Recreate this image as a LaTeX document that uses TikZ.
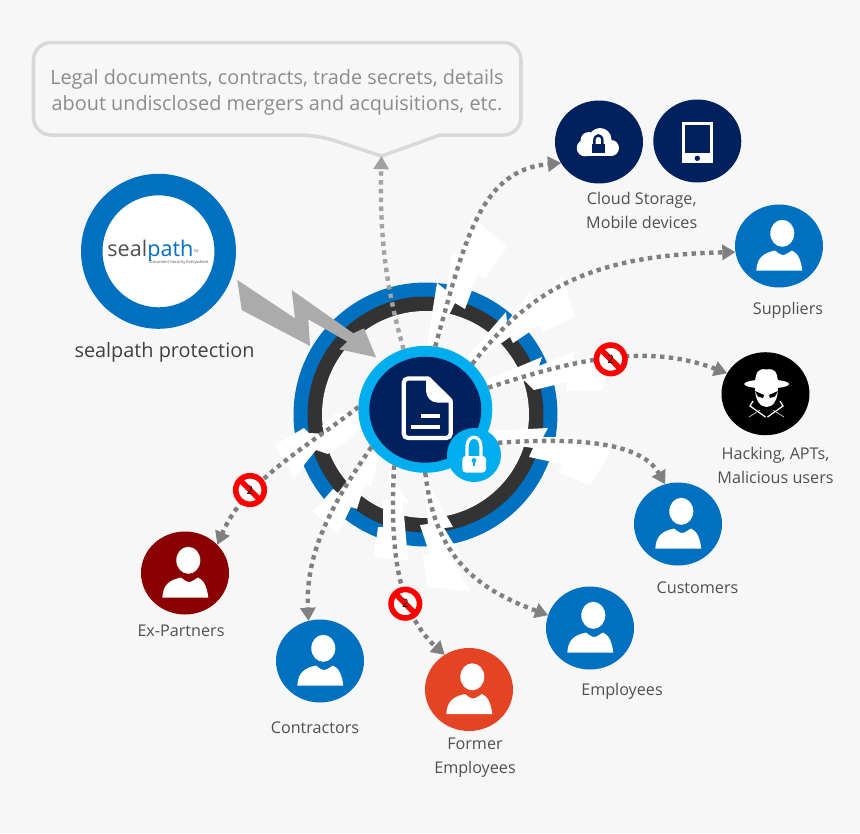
\documentclass[tikz,border=0pt]{standalone}
\usepackage{fontspec}
\setmainfont{Open Sans}
\usepackage{xcolor}
\usetikzlibrary{arrows.meta,shapes.geometric}
\definecolor{Paper}{HTML}{F7F7F7}
\definecolor{Navy}{HTML}{00205E}
\definecolor{Sky}{HTML}{00AEEF}
\definecolor{Royal}{HTML}{0070C0}
\definecolor{Coal}{HTML}{333333}
\definecolor{Bolt}{HTML}{ABABAB}
\definecolor{Ink}{HTML}{505050}
\tikzstyle{disc}=[ellipse,inner sep=0pt,outer sep=0pt,minimum width=1.76cm,minimum height=1.66cm]
\tikzstyle{person}=[disc,fill=Royal]
\tikzstyle{label}=[inner sep=0pt,align=center,text=Ink,font=\fontsize{9.2}{13.6}\selectfont]
\tikzstyle{spike}=[fill=white,draw=none]
\tikzstyle{flow}=[-{Triangle[width=8.5pt,length=7.5pt]},draw=gray,line width=2.5pt,dash pattern=on 2.5pt off 2.5pt]
\tikzstyle{flowpale}=[flow,draw=Bolt!95!black]
\tikzstyle{nosign}=[circle,draw=red,fill=white,line width=3.2pt,inner sep=0pt,outer sep=0pt,minimum size=0.57cm,font=\fontsize{6.5}{7}\selectfont,path picture={\draw [red,line width=3.2pt] (path picture bounding box.north west) to (path picture bounding box.south east);}]
\tikzset{pics/personicon/.style={code={
 \fill [white] (3.3,-12.7) ellipse [x radius=12, y radius=13.5];
 \fill [white] (-22.7,24.7) .. controls (-22,12) and (-16,7) .. (-4,4.5) .. controls (-1,7) and (2,9) .. (4,9) .. controls (7,9) and (10,6) .. (13,4.5) .. controls (19,7) and (22,14) .. (23.3,24.7) -- cycle;
}}}

\begin{document}
\begin{tikzpicture}[x=0.02cm,y=-0.02cm]
 \fill [Paper] (0,0) rectangle (860,833);
 \useasboundingbox (0,0) rectangle (860,833);

 \draw [draw=black!15,line width=2pt,fill=Paper] (440,135) [rounded corners=10pt] -- (521,135) -- (521,42.5) -- (33.5,42.5) -- (33.5,135) -- (317.5,135) [sharp corners] -- (381.5,156) -- cycle;
 \coordinate (bubbletip) at (381.5,156);
 \node [style=label,text=black!45,font=\fontsize{11.3}{15}\selectfont] (bubbletext) at (277,92.5) {Legal documents, contracts, trade secrets, details\\about undisclosed mergers and acquisitions, etc.};

 \node [circle,fill=Royal,minimum size=5.28cm,inner sep=0pt] (ringblue) at (425.5,414.5) {};
 \node [circle,fill=Coal,minimum size=4.72cm,inner sep=0pt] (ringdark) at (425.5,414.5) {};
 \node [circle,fill=Paper,minimum size=4.14cm,inner sep=0pt] (ringhole) at (425.5,414.5) {};

 \fill [style=spike] (427,345) -- (437,283) -- (446,290) -- (453,251) -- (461,257) -- (472,216) -- (507,247) -- (485,279) -- (478,274) -- (465,309) -- (455,303) -- (450,313) -- (437,347) -- cycle;
 \fill [style=spike] (467,357) -- (506,312) -- (507,322) -- (530,293) -- (535,302) -- (563,275) -- (575,317) -- (542,332) -- (540,325) -- (513,343) -- (510,337) -- (475,362) -- cycle;
 \fill [style=spike] (487,380) -- (542,357) -- (539,366) -- (573,352) -- (574,362) -- (608,352) -- (603,390) -- (567,391) -- (567,382) -- (534,390) -- (525,381) -- (488,390) -- cycle;
 \fill [style=spike] (489,431) -- (548,428) -- (543,437) -- (580,437) -- (575,447) -- (613,448) -- (590,485) -- (558,472) -- (562,464) -- (529,457) -- (533,448) -- (500,443) -- cycle;
 \fill [style=spike] (423,475) -- (453,527) -- (444,528) -- (462,558) -- (450,555) -- (470,591) -- (427,587) -- (423,554) -- (430,555) -- (420,525) -- (428,524) -- cycle;
 \fill [style=spike] (388,470) -- (409,503) -- (403,503) -- (408,560) -- (374,557) -- (378,527) -- (383,527) -- (383,500) -- (391,500) -- cycle;
 \fill [style=spike] (379,457) -- (371,487) -- (365,483) -- (357,509) -- (351,507) -- (338,534) -- (313,512) -- (333,489) -- (338,493) -- (355,470) -- (358,473) -- (372,453) -- cycle;
 \fill [style=spike] (358,411) -- (335,414) -- (322,426) -- (328,434) -- (309,433) -- (304,428) -- (275,445) -- (294,478) -- (304,465) -- (316,450) -- (328,454) -- (350,439) -- (360,427) -- cycle;

 \fill [Bolt] (237.3,280) -- (295,318.3) -- (291.7,290) -- (353.3,333.3) -- (364,328.3) -- (376,357.3) -- (339.3,349.3) -- (347.3,341.7) -- (308.3,319.3) -- (310,346) -- (241.7,310) -- cycle;

 \node [disc,fill=Sky,minimum width=2.68cm,minimum height=2.54cm] (core) at (425.3,409.3) {};
 \node [disc,fill=Navy,minimum width=2.24cm,minimum height=2.12cm] (coreinner) at (425.3,409.7) {};
 \draw [white,line width=2.4pt,rounded corners=2.5pt] (428.3,378.5) -- (403.7,378.5) -- (403.7,438) -- (450.7,438) -- (450.7,400.5);
 \fill [white,draw=white,line width=2.4pt,line join=round] (428.3,378.5) -- (450.7,400.5) -- (438,400.5) .. controls (432,400.5) and (428.3,396) .. (428.3,391) -- cycle;
 \draw [white,line width=2.4pt] (420.7,416) to (440,416);
 \draw [white,line width=2.4pt] (411,426.7) to (440,426.7);
 \node [circle,fill=Sky,minimum size=1.08cm,inner sep=0pt,outer sep=0pt] (lock) at (474,455) {};
 \fill [white,rounded corners=2pt] (462.3,456) rectangle (486,472.5);
 \draw [white,line width=1.8pt] (467,457) -- (467,447) .. controls (467,434) and (481,434) .. (481,447) -- (481,457);
 \fill [Sky] (474,460.5) circle [radius=2.4];
 \fill [Sky] (473.2,461) rectangle (474.8,466);

 \node [circle,draw=Royal,fill=white,line width=0.43cm,minimum size=2.67cm,inner sep=0pt,outer sep=0pt] (logo) at (158.5,251.3) {};
 \node [inner sep=0pt,anchor=base,font=\fontsize{12.3}{15}\selectfont] (logoname) at (150.4,256.5) {\textcolor{Ink}{seal}\textcolor{Royal}{path}};
 \node [inner sep=0pt,anchor=base,text=Ink,font=\fontsize{2.3}{3}\selectfont] (logosub) at (179,263) {Document Security Everywhere};
 \node [inner sep=0pt,anchor=base,text=Ink,font=\fontsize{2}{3}\selectfont] (logotm) at (196,252) {TM};
 \node [style=label,anchor=base,font=\fontsize{11.3}{14}\selectfont,text=black!75] (logotext) at (164.5,357) {sealpath protection};

 \node [disc,fill=Navy] (cloud) at (599,142) {};
 \fill [white] (585,148) circle [radius=8.3] (589,140.5) circle [radius=8.5] (600,139.5) circle [radius=11.5] (611,148) circle [radius=8];
 \fill [white] (585,147) rectangle (611,156);
 \fill [Navy] (591.7,144) rectangle (605,152.7);
 \draw [Navy,line width=1.4pt] (594.3,146) -- (594.3,141) .. controls (594.3,133.5) and (602.4,133.5) .. (602.4,141) -- (602.4,146);
 \node [disc,fill=Navy] (mobile) at (697.3,141) {};
 \fill [white] (682,121.7) rectangle (712.7,163);
 \fill [Navy] (685,124.7) rectangle (710,153.3);
 \fill [Navy] (697.3,158.3) circle [radius=2.7];
 \node [style=label] (cloudtext) at (641.7,210.5) {Cloud Storage,\\Mobile devices};

 \node [style=person] (suppliers) at (779,246) {};
 \pic at (suppliers) {personicon};
 \node [style=label] (supplierstext) at (788,310.5) {Suppliers};
 \node [disc,fill=black] (hacking) at (765.5,393.7) {};
 \fill [white] (766.7,384) ellipse [x radius=22.5, y radius=4.5];
 \fill [white] (755,382) .. controls (756,372) and (758,368) .. (766.7,369.5) .. controls (775,368) and (777,372) .. (778,382) -- cycle;
 \fill [white] (755,388) .. controls (755,400) and (760,407) .. (766.7,407) .. controls (773,407) and (778,400) .. (778,388) -- cycle;
 \fill [black] (755,391) -- (764,395) -- (763,398) -- (758,396.5) -- cycle;
 \fill [black] (778,391) -- (769,395) -- (770,398) -- (775,396.5) -- cycle;
 \draw [white,line width=0.7pt] (753,401) -- (750,406) -- (765.5,417);
 \draw [white,line width=0.7pt] (780,401) -- (783,406) -- (767.5,417);
 \draw [white,line width=0.3pt] (749,417) -- (760,410);
 \draw [white,line width=0.3pt] (784,417) -- (773,410);
 \node [style=label] (hackingtext) at (775.5,465) {Hacking, APTs,\\Malicious users};
 \node [style=person] (customers) at (678,524) {};
 \pic at (customers) {personicon};
 \node [style=label] (customerstext) at (697.5,588) {Customers};
 \node [style=person] (employees) at (590,628) {};
 \pic at (employees) {personicon};
 \node [style=label] (employeestext) at (622,691.5) {Employees};
 \node [disc,fill={rgb,255:red,228;green,68;blue,36}] (former) at (469,689.5) {};
 \pic at (former) {personicon};
 \node [style=label] (formertext) at (475,758) {Former\\Employees};
 \node [style=person] (contractors) at (320,661) {};
 \pic at (contractors) {personicon};
 \node [style=label] (contractorstext) at (315,727.5) {Contractors};
 \node [disc,fill={rgb,255:red,139;green,0;blue,0}] (expartners) at (185,573) {};
 \pic at (expartners) {personicon};
 \node [style=label] (expartnerstext) at (181,631) {Ex-Partners};

 \draw [style=flowpale] (core.110) .. controls (390,300) and (379,250) .. (bubbletip);
 \draw [style=flow] (core.81) .. controls (465,240) and (480,170) .. (cloud.209);
 \draw [style=flow] (core.44) .. controls (530,290) and (590,255) .. (suppliers.188);
 \draw [style=flow] (core.19) .. controls (560,365) and (640,340) .. (hacking.152);
 \draw [style=flow] (lock.27) .. controls (570,438) and (640,440) .. (customers.108);
 \draw [style=flow] (core.270) .. controls (435,560) and (480,590) .. (employees.163);
 \draw [style=flow] (core.241) .. controls (390,540) and (395,610) .. (former.125);
 \draw [style=flow] (core.215) .. controls (335,500) and (305,550) .. (contractors.106);
 \draw [style=flow] (core.178) .. controls (310,445) and (245,480) .. (expartners.41);

 \node [style=nosign] (signhacking) at (610.7,359.3) {2};
 \node [style=nosign] (signpartners) at (250,490) {2};
 \node [style=nosign] (signformer) at (405.3,603.7) {2};
\end{tikzpicture}
\end{document}
